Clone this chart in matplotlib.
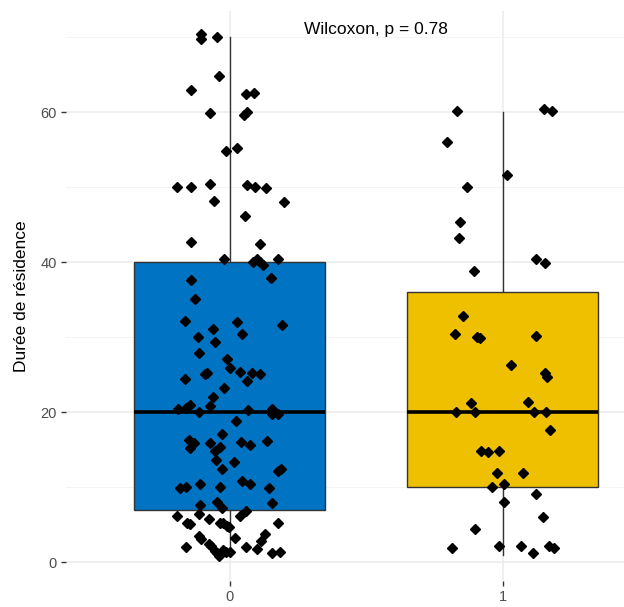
import numpy as np
import matplotlib.pyplot as plt

plt.rcParams['font.family'] = ['Liberation Sans', 'DejaVu Sans']

groups = ['0', '1']
box_colors = ['#0073C2', '#EFC000']

# box statistics
q1 = [7, 10]
med = [20, 20]
q3 = [40, 36]
whislo = [1, 1]
whishi = [70, 60]

# jittered points: (x offset from group centre, value)
g0_dx = [-0.106, -0.106, -0.047, -0.040, -0.143, 0.059, 0.088, -0.073, 0.051, 0.062,
         -0.015, 0.027, -0.192, -0.143, -0.073, 0.063, 0.093, 0.132, -0.059, 0.197,
         0.056, -0.143, 0.110, -0.022, 0.084, 0.099, 0.110, 0.121, 0.178, -0.143,
         0.151, -0.127, -0.164, 0.027, 0.193, -0.063, -0.118, 0.043, -0.054, -0.114,
         -0.010, 0.0, -0.092, -0.084, -0.164, 0.037, 0.083, 0.111, 0.063, -0.022,
         -0.063, -0.189, -0.162, -0.147, -0.073, -0.114, 0.068, 0.154, 0.156, 0.178,
         0.022, -0.027, -0.150, -0.132, -0.147, -0.073, 0.040, 0.074, 0.137, -0.037,
         -0.054, -0.050, 0.014, -0.027, 0.178, 0.189, -0.183, -0.159, -0.110, -0.037,
         0.045, 0.074, 0.143, -0.110, -0.047, -0.027, 0.155, -0.195, -0.114, 0.037,
         0.059, -0.155, -0.145, -0.078, -0.037, -0.025, -0.012, -0.003, 0.178, -0.114,
         -0.104, 0.018, 0.128, 0.116, -0.159, -0.078, -0.068, 0.059, 0.100, -0.054,
         -0.047, -0.039, -0.025, -0.015, 0.0, 0.155, 0.183]
g0_y = [70.4, 69.8, 70.0, 64.8, 63.0, 62.4, 62.6, 59.9, 59.6, 60.0,
        54.8, 55.2, 50.0, 50.0, 50.4, 50.3, 50.0, 49.9, 48.2, 48.0,
        46.2, 42.7, 42.4, 40.4, 40.0, 40.4, 40.1, 39.7, 40.4, 37.7,
        37.9, 35.1, 32.2, 32.0, 31.6, 31.1, 30.0, 30.4, 29.4, 27.9,
        27.1, 25.9, 25.1, 25.2, 24.4, 25.4, 25.2, 25.1, 24.2, 23.2,
        22.1, 20.4, 20.6, 21.0, 20.9, 20.0, 20.3, 20.4, 19.8, 19.8,
        18.9, 17.1, 16.3, 15.9, 15.2, 15.9, 16.1, 15.7, 16.2, 15.4,
        14.8, 13.7, 13.4, 12.4, 12.2, 12.4, 9.9, 10.0, 10.4, 10.0,
        10.8, 10.4, 9.9, 7.7, 8.0, 7.3, 7.9, 6.2, 6.4, 6.2,
        6.8, 5.3, 5.1, 5.8, 5.3, 5.2, 4.8, 4.7, 5.2, 3.5,
        3.1, 3.2, 3.8, 2.8, 2.1, 2.4, 2.2, 2.0, 1.8, 1.5,
        1.2, 0.8, 1.6, 1.4, 1.4, 1.2, 1.4]

g1_dx = [-0.167, 0.150, 0.179, -0.204, 0.014, -0.131, -0.155, -0.159, 0.120, 0.156,
         -0.107, -0.145, -0.176, -0.094, -0.084, 0.120, 0.029, 0.156, 0.162, -0.118,
         0.093, -0.172, -0.103, 0.116, 0.158, 0.172, -0.081, -0.054, -0.014, -0.021,
         0.074, -0.039, 0.006, 0.120, 0.005, 0.148, -0.103, -0.186, -0.014, 0.065,
         0.170, 0.188, 0.111]
g1_y = [60.2, 60.4, 60.2, 56.0, 51.7, 50.0, 45.4, 43.2, 40.4, 39.9,
        38.9, 32.9, 30.4, 30.1, 29.9, 30.2, 26.3, 25.2, 24.7, 21.2,
        21.4, 20.1, 20.1, 20.1, 20.1, 17.7, 14.9, 14.7, 14.9, 11.9,
        11.9, 10.0, 10.4, 9.1, 8.0, 6.1, 4.4, 1.9, 2.2, 2.2,
        2.2, 1.9, 1.2]

fig = plt.figure(figsize=(6.24, 6.07), dpi=100)
ax = fig.add_axes([66/624, 26/607, 600.6/624, 570/607])

stats = []
for i in range(2):
    stats.append({'q1': q1[i], 'med': med[i], 'q3': q3[i],
                  'whislo': whislo[i], 'whishi': whishi[i], 'fliers': []})

bp = ax.bxp(stats, positions=[0, 1], widths=0.7, patch_artist=True,
            showcaps=False, showfliers=False,
            boxprops=dict(edgecolor='#333333', linewidth=1),
            whiskerprops=dict(color='#333333', linewidth=1),
            medianprops=dict(color='black', linewidth=2.6))
for patch, c in zip(bp['boxes'], box_colors):
    patch.set_facecolor(c)
for w in bp['whiskers']:
    w.set_zorder(1)

ax.plot(0 + np.array(g0_dx), g0_y, 'D', color='black', ms=5, zorder=4)
ax.plot(1 + np.array(g1_dx), g1_y, 'D', color='black', ms=5, zorder=4)

ax.set_xlim(-0.6, 1.6)
ax.set_ylim(-2.5, 73.5)
ax.set_xticks([0, 1])
ax.set_xticklabels(groups)
ax.set_yticks([0, 20, 40, 60])
ax.set_yticks([10, 30, 50, 70], minor=True)
ax.grid(True, which='major', color='#EBEBEB', linewidth=1.1, zorder=0)
ax.grid(True, which='minor', axis='y', color='#F2F2F2', linewidth=0.6, zorder=0)
ax.set_axisbelow(True)
for s in ax.spines.values():
    s.set_visible(False)
ax.tick_params(axis='both', which='major', length=3.5, width=1, color='#333333',
               labelcolor='#4D4D4D', labelsize=10.5, pad=3)
ax.tick_params(axis='both', which='minor', length=0)

ax.set_ylabel('Durée de résidence', fontsize=12.5, color='black', labelpad=8)
ax.text(0.27, 71.0, 'Wilcoxon, p = 0.78', fontsize=12.5, ha='left', va='center')

fig.savefig('out.png', dpi=100)
